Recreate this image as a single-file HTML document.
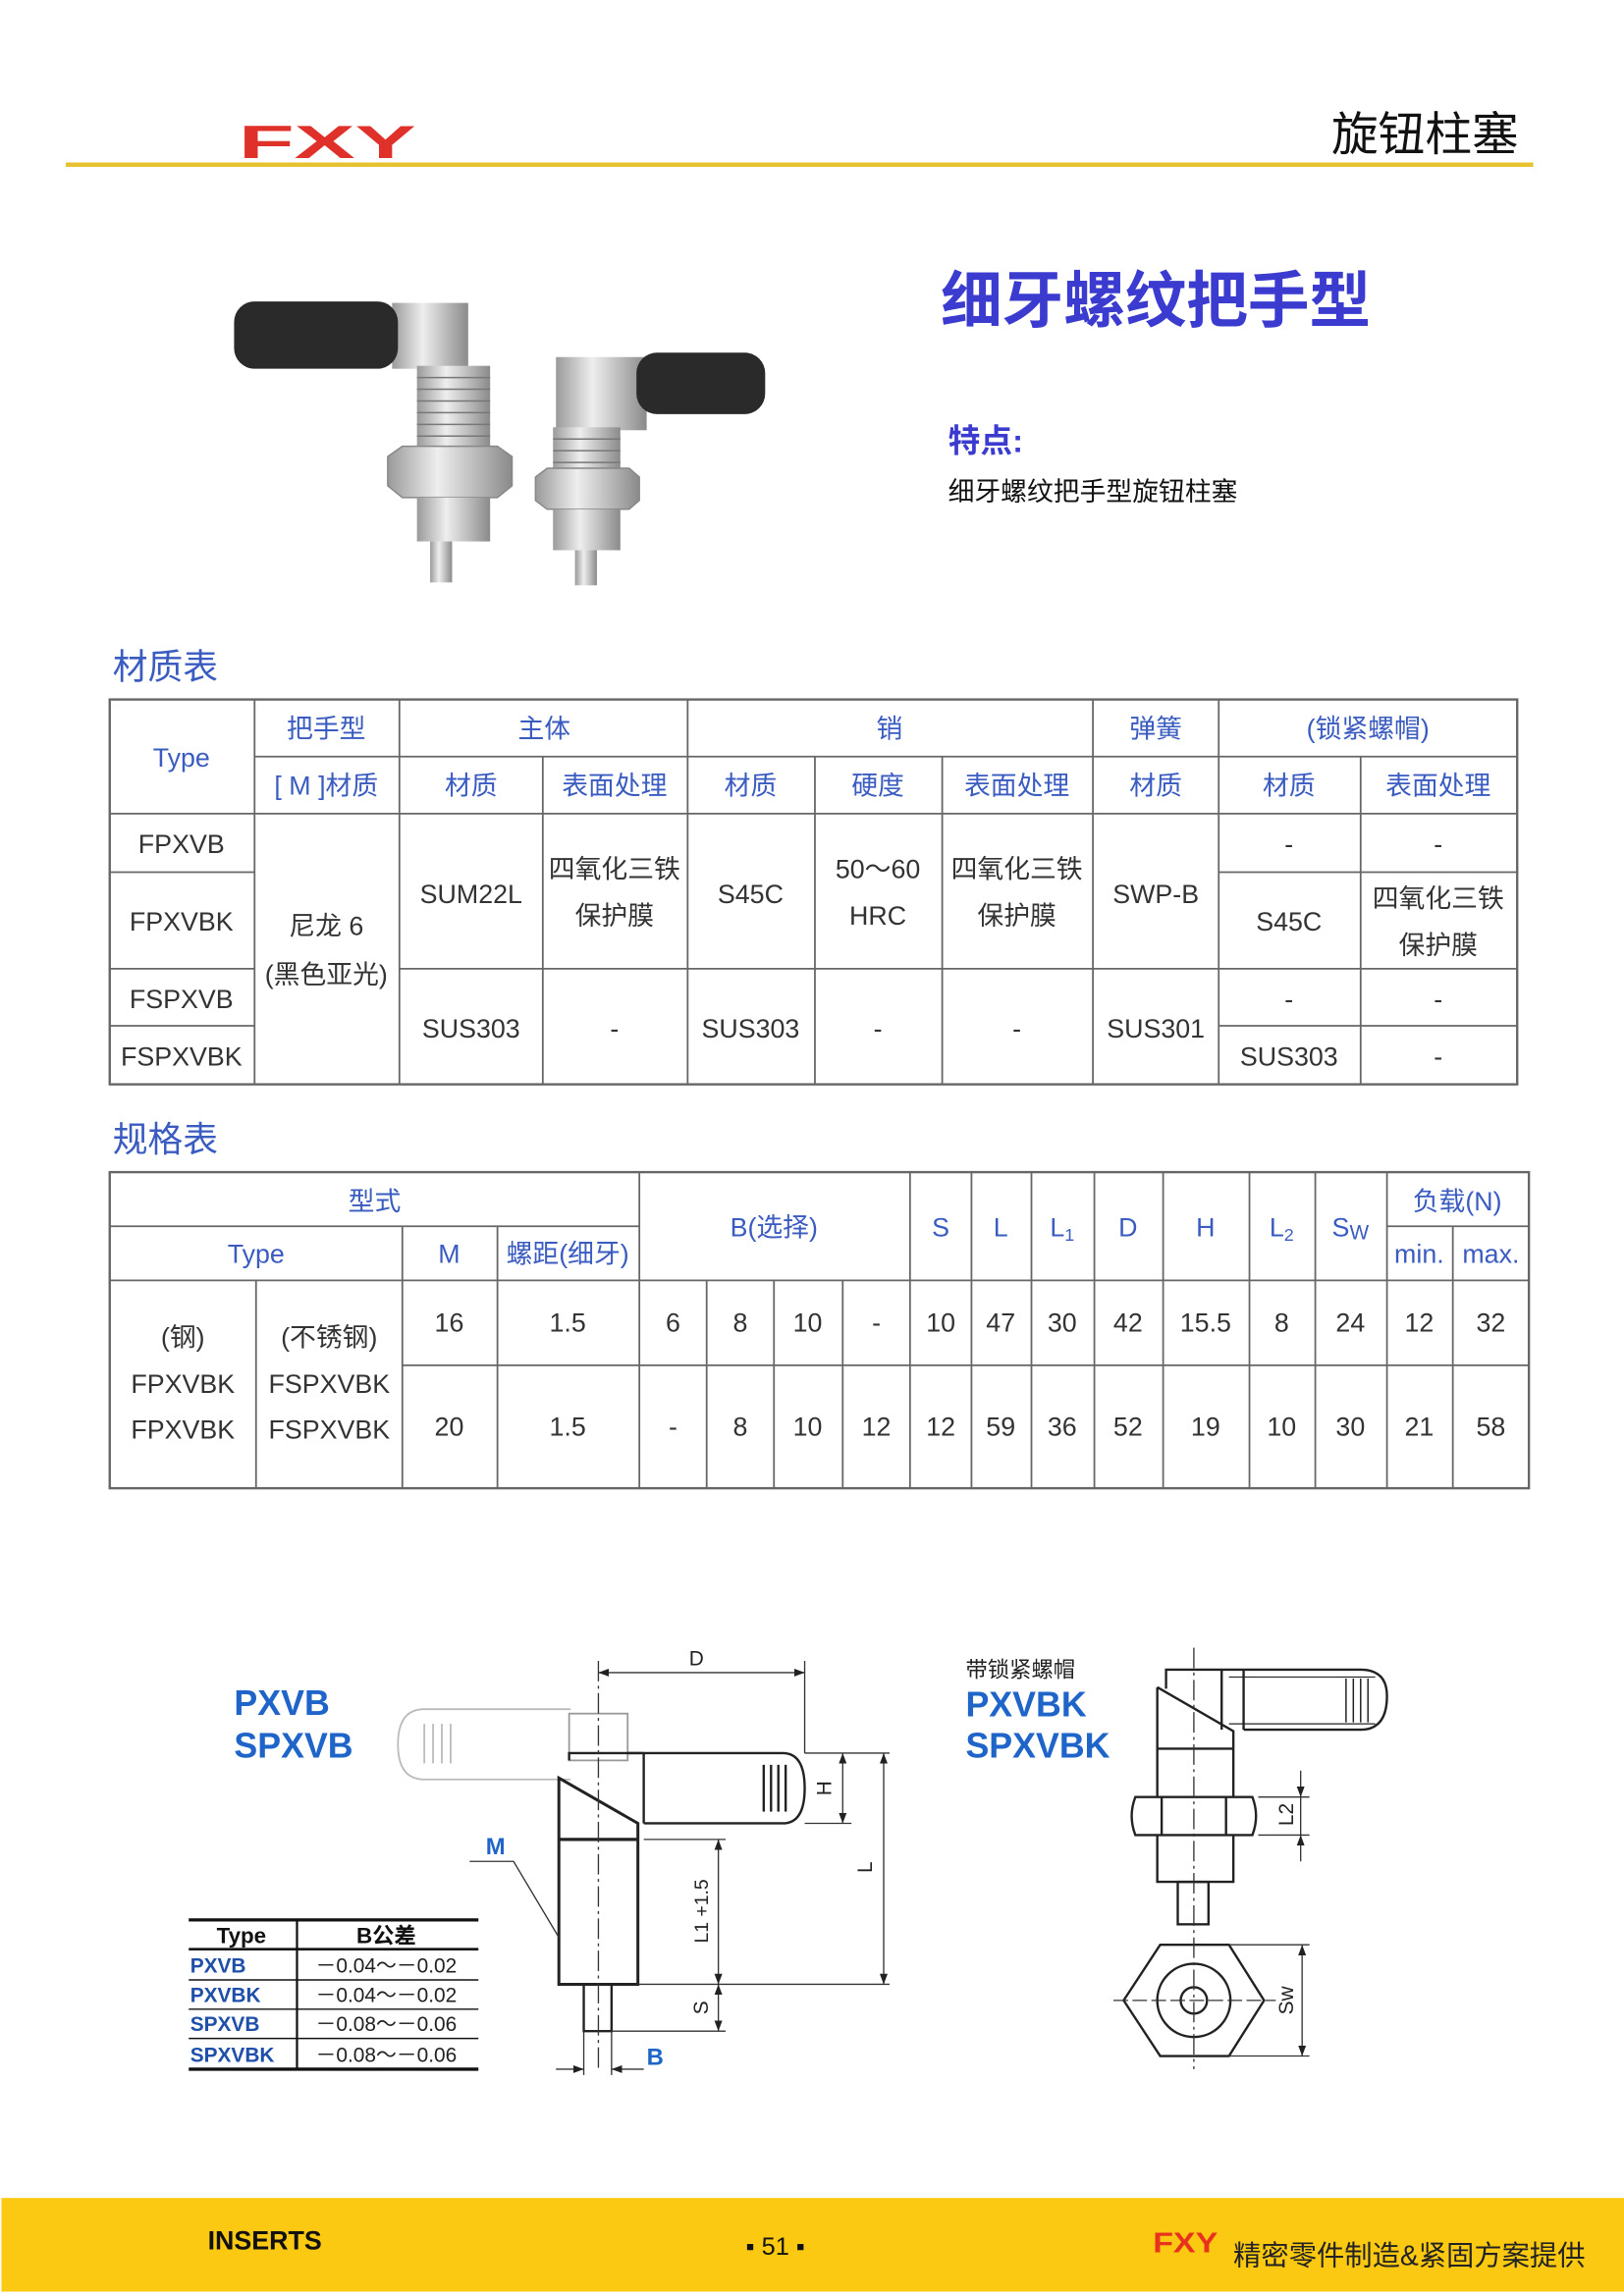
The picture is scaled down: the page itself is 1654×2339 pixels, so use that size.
<!DOCTYPE html>
<html><head><meta charset="utf-8"><style>
html,body{margin:0;padding:0;background:#fff;}
svg{display:block;}
text{font-family:"Liberation Sans","Noto Sans CJK SC",sans-serif;}
</style></head><body>
<svg width="1654" height="2339" viewBox="0 0 1110 1569" preserveAspectRatio="none" xmlns="http://www.w3.org/2000/svg">
<!-- header -->
<text transform="translate(163,108) scale(1.95,1)" font-size="32" font-weight="bold" fill="#e0302a">FXY</text>
<text x="910" y="103" font-size="32" fill="#111">旋钮柱塞</text>
<line x1="45" y1="112.5" x2="1048" y2="112.5" stroke="#e6c230" stroke-width="3"/>
<text x="643" y="220" font-size="42" font-weight="bold" fill="#3b3bd0">细牙螺纹把手型</text>
<text x="648" y="309" font-size="22" font-weight="bold" fill="#3b3bd0">特点:</text>
<text x="648" y="342" font-size="18" fill="#111">细牙螺纹把手型旋钮柱塞</text>

<!-- photos -->
<defs>
<linearGradient id="mt" x1="0" x2="1" y1="0" y2="0"><stop offset="0" stop-color="#9a9a9a"/><stop offset=".4" stop-color="#eee"/><stop offset="1" stop-color="#8a8a8a"/></linearGradient>
</defs>
<rect x="268" y="207" width="52" height="45" fill="url(#mt)"/>
<rect x="160" y="206" width="112" height="46" rx="14" fill="#2a2a2a"/>
<rect x="285" y="250" width="50" height="60" fill="url(#mt)"/>
<g stroke="#777" stroke-width="1"><line x1="285" y1="258" x2="335" y2="258"/><line x1="285" y1="266" x2="335" y2="266"/><line x1="285" y1="274" x2="335" y2="274"/><line x1="285" y1="282" x2="335" y2="282"/><line x1="285" y1="290" x2="335" y2="290"/><line x1="285" y1="298" x2="335" y2="298"/></g>
<polygon points="265,312 275,305 340,305 350,312 350,332 340,340 275,340 265,332" fill="url(#mt)" stroke="#888"/>
<rect x="285" y="340" width="50" height="30" fill="url(#mt)"/>
<rect x="294" y="370" width="15" height="28" fill="url(#mt)"/>
<rect x="380" y="244" width="62" height="50" fill="url(#mt)"/>
<rect x="435" y="241" width="88" height="42" rx="14" fill="#2a2a2a"/>
<rect x="378" y="292" width="46" height="40" fill="url(#mt)"/>
<g stroke="#777" stroke-width="1"><line x1="378" y1="300" x2="424" y2="300"/><line x1="378" y1="308" x2="424" y2="308"/><line x1="378" y1="316" x2="424" y2="316"/></g>
<polygon points="366,326 374,320 430,320 437,326 437,342 430,348 374,348 366,342" fill="url(#mt)" stroke="#888"/>
<rect x="378" y="348" width="46" height="28" fill="url(#mt)"/>
<rect x="393" y="376" width="15" height="24" fill="url(#mt)"/>

<!-- 材质表 -->
<text x="77" y="464" font-size="24" fill="#3a5bc0">材质表</text>
<g stroke="#666" stroke-width="1.2" fill="none">
<rect x="75" y="478" width="962" height="263" stroke-width="1.6"/>
<line x1="174" y1="517" x2="1037" y2="517"/>
<line x1="75" y1="556" x2="1037" y2="556"/>
<line x1="75" y1="596" x2="174" y2="596"/><line x1="833" y1="596" x2="1037" y2="596"/>
<line x1="75" y1="662" x2="174" y2="662"/><line x1="273" y1="662" x2="1037" y2="662"/>
<line x1="75" y1="701" x2="174" y2="701"/><line x1="833" y1="701" x2="1037" y2="701"/>
<line x1="174" y1="478" x2="174" y2="741"/><line x1="273" y1="478" x2="273" y2="741"/>
<line x1="371" y1="517" x2="371" y2="741"/><line x1="470" y1="478" x2="470" y2="741"/>
<line x1="557" y1="517" x2="557" y2="741"/><line x1="644" y1="517" x2="644" y2="741"/>
<line x1="747" y1="478" x2="747" y2="741"/><line x1="833" y1="478" x2="833" y2="741"/>
<line x1="930" y1="517" x2="930" y2="741"/>
</g>
<g font-size="18" fill="#3a5bc0" text-anchor="middle">
<text x="124" y="524">Type</text>
<text x="223" y="504">把手型</text><text x="372" y="504">主体</text><text x="608" y="504">销</text><text x="790" y="504">弹簧</text><text x="935" y="504">(锁紧螺帽)</text>
<text x="223" y="543">[ M ]材质</text><text x="322" y="543">材质</text><text x="420" y="543">表面处理</text><text x="513" y="543">材质</text><text x="600" y="543">硬度</text><text x="695" y="543">表面处理</text><text x="790" y="543">材质</text><text x="881" y="543">材质</text><text x="983" y="543">表面处理</text>
</g>
<g font-size="18" fill="#333" text-anchor="middle">
<text x="124" y="583">FPXVB</text><text x="124" y="636">FPXVBK</text><text x="124" y="689">FSPXVB</text><text x="124" y="728">FSPXVBK</text>
<text x="223" y="639">尼龙 6</text><text x="223" y="672">(黑色亚光)</text>
<text x="322" y="617">SUM22L</text><text x="420" y="600">四氧化三铁</text><text x="420" y="632">保护膜</text>
<text x="513" y="617">S45C</text><text x="600" y="600">50～60</text><text x="600" y="632">HRC</text>
<text x="695" y="600">四氧化三铁</text><text x="695" y="632">保护膜</text><text x="790" y="617">SWP-B</text>
<text x="881" y="583">-</text><text x="983" y="583">-</text>
<text x="881" y="636">S45C</text><text x="983" y="620">四氧化三铁</text><text x="983" y="652">保护膜</text>
<text x="322" y="709">SUS303</text><text x="420" y="709">-</text><text x="513" y="709">SUS303</text><text x="600" y="709">-</text><text x="695" y="709">-</text><text x="790" y="709">SUS301</text>
<text x="881" y="689">-</text><text x="983" y="689">-</text><text x="881" y="728">SUS303</text><text x="983" y="728">-</text>
</g>

<!-- 规格表 -->
<text x="77" y="787" font-size="24" fill="#3a5bc0">规格表</text>
<g stroke="#666" stroke-width="1.2" fill="none">
<rect x="75" y="801" width="970" height="216" stroke-width="1.6"/>
<line x1="75" y1="838" x2="437" y2="838"/><line x1="948" y1="838" x2="1045" y2="838"/>
<line x1="75" y1="875" x2="1045" y2="875"/>
<line x1="275" y1="933" x2="1045" y2="933"/>
<line x1="175" y1="875" x2="175" y2="1017"/>
<line x1="275" y1="838" x2="275" y2="1017"/><line x1="340" y1="838" x2="340" y2="1017"/>
<line x1="437" y1="801" x2="437" y2="1017"/>
<line x1="483" y1="875" x2="483" y2="1017"/><line x1="529" y1="875" x2="529" y2="1017"/><line x1="576" y1="875" x2="576" y2="1017"/>
<line x1="622" y1="801" x2="622" y2="1017"/><line x1="664" y1="801" x2="664" y2="1017"/><line x1="705" y1="801" x2="705" y2="1017"/>
<line x1="748" y1="801" x2="748" y2="1017"/><line x1="795" y1="801" x2="795" y2="1017"/><line x1="854" y1="801" x2="854" y2="1017"/>
<line x1="899" y1="801" x2="899" y2="1017"/><line x1="948" y1="801" x2="948" y2="1017"/><line x1="993" y1="838" x2="993" y2="1017"/>
</g>
<g font-size="18" fill="#3a5bc0" text-anchor="middle">
<text x="256" y="827">型式</text><text x="175" y="863">Type</text><text x="307" y="863">M</text><text x="388" y="863">螺距(细牙)</text>
<text x="529" y="845">B(选择)</text><text x="643" y="845">S</text><text x="684" y="845">L</text><text x="726" y="845">L<tspan font-size="12" dy="3">1</tspan></text>
<text x="771" y="845">D</text><text x="824" y="845">H</text><text x="876" y="845">L<tspan font-size="12" dy="3">2</tspan></text><text x="923" y="845">S<tspan font-size="14" dy="2">W</tspan></text>
<text x="996" y="827">负载(N)</text><text x="970" y="863">min.</text><text x="1019" y="863">max.</text>
</g>
<g font-size="18" fill="#333" text-anchor="middle">
<text x="125" y="920">(钢)</text><text x="125" y="952">FPXVBK</text><text x="125" y="983">FPXVBK</text>
<text x="225" y="920">(不锈钢)</text><text x="225" y="952">FSPXVBK</text><text x="225" y="983">FSPXVBK</text>
<text x="307" y="910">16</text><text x="388" y="910">1.5</text><text x="460" y="910">6</text><text x="506" y="910">8</text><text x="552" y="910">10</text><text x="599" y="910">-</text>
<text x="643" y="910">10</text><text x="684" y="910">47</text><text x="726" y="910">30</text><text x="771" y="910">42</text><text x="824" y="910">15.5</text><text x="876" y="910">8</text><text x="923" y="910">24</text><text x="970" y="910">12</text><text x="1019" y="910">32</text>
<text x="307" y="981">20</text><text x="388" y="981">1.5</text><text x="460" y="981">-</text><text x="506" y="981">8</text><text x="552" y="981">10</text><text x="599" y="981">12</text>
<text x="643" y="981">12</text><text x="684" y="981">59</text><text x="726" y="981">36</text><text x="771" y="981">52</text><text x="824" y="981">19</text><text x="876" y="981">10</text><text x="923" y="981">30</text><text x="970" y="981">21</text><text x="1019" y="981">58</text>
</g>

<!-- left drawing -->
<defs><marker id="ar" markerWidth="8" markerHeight="6" refX="8" refY="3" orient="auto-start-reverse"><path d="M0,0 L8,3 L0,6 z" fill="#222"/></marker></defs>
<text x="160" y="1172" font-size="24" font-weight="bold" fill="#1f64c8">PXVB</text>
<text x="160" y="1201" font-size="24" font-weight="bold" fill="#1f64c8">SPXVB</text>
<g fill="none" stroke="#bbb" stroke-width="1.2">
<path d="M390,1168 H290 Q272,1168 272,1192 Q272,1216 290,1216 H390"/>
<line x1="290" y1="1178" x2="290" y2="1205"/><line x1="296" y1="1178" x2="296" y2="1205"/><line x1="302" y1="1178" x2="302" y2="1205"/><line x1="308" y1="1178" x2="308" y2="1205"/>
<rect x="389" y="1171" width="40" height="32" stroke="#999"/>
</g>
<g fill="none" stroke="#222" stroke-width="1.6">
<path d="M429,1198 H535 Q550,1198 550,1222 Q550,1246 535,1246 H440"/>
<line x1="440" y1="1198" x2="440" y2="1246"/>
<line x1="522" y1="1206" x2="522" y2="1238"/><line x1="527" y1="1206" x2="527" y2="1238"/><line x1="532" y1="1206" x2="532" y2="1238"/><line x1="537" y1="1206" x2="537" y2="1238"/>
<path d="M389,1203 V1198 H440"/>
<path d="M382,1215 L436,1246 V1356 H382 Z" stroke-width="2"/>
<line x1="382" y1="1257" x2="436" y2="1257" stroke-width="2.2"/>
<rect x="399" y="1356" width="19" height="32"/>
</g>
<g stroke="#333" stroke-width="0.9" fill="none">
<line x1="409" y1="1135" x2="409" y2="1415" stroke-dasharray="14,3,2,3"/>
<line x1="550" y1="1135" x2="550" y2="1198"/>
<line x1="409" y1="1143" x2="550" y2="1143" marker-start="url(#ar)" marker-end="url(#ar)"/>
<line x1="550" y1="1198" x2="608" y2="1198"/><line x1="550" y1="1246" x2="582" y2="1246"/>
<line x1="576" y1="1198" x2="576" y2="1246" marker-start="url(#ar)" marker-end="url(#ar)"/>
<line x1="604" y1="1198" x2="604" y2="1356" marker-start="url(#ar)" marker-end="url(#ar)"/>
<line x1="440" y1="1257" x2="496" y2="1257"/><line x1="436" y1="1356" x2="608" y2="1356"/><line x1="418" y1="1388" x2="496" y2="1388"/>
<line x1="491" y1="1257" x2="491" y2="1356" marker-start="url(#ar)" marker-end="url(#ar)"/>
<line x1="491" y1="1356" x2="491" y2="1388" marker-start="url(#ar)" marker-end="url(#ar)"/>
<line x1="399" y1="1388" x2="399" y2="1418"/><line x1="418" y1="1388" x2="418" y2="1418"/>
<line x1="380" y1="1414" x2="399" y2="1414" marker-end="url(#ar)"/><line x1="440" y1="1414" x2="418" y2="1414" marker-end="url(#ar)"/>
<polyline points="321,1272 351,1272 382,1324"/>
</g>
<text x="476" y="1138" font-size="14" text-anchor="middle" fill="#222">D</text>
<text transform="translate(568,1222) rotate(-90)" font-size="14" text-anchor="middle" fill="#222">H</text>
<text transform="translate(596,1276) rotate(-90)" font-size="14" text-anchor="middle" fill="#222">L</text>
<text transform="translate(484,1306) rotate(-90)" font-size="13" text-anchor="middle" fill="#222">L1 +1.5</text>
<text transform="translate(484,1372) rotate(-90)" font-size="14" text-anchor="middle" fill="#222">S</text>
<text x="332" y="1267" font-size="16" font-weight="bold" fill="#1f64c8">M</text>
<text x="442" y="1411" font-size="16" font-weight="bold" fill="#1f64c8">B</text>
<!-- tolerance table -->
<g stroke="#111" fill="none">
<line x1="129" y1="1312" x2="327" y2="1312" stroke-width="2.2"/>
<line x1="129" y1="1332" x2="327" y2="1332" stroke-width="1.8"/>
<line x1="129" y1="1353" x2="327" y2="1353" stroke-width="1"/>
<line x1="129" y1="1373" x2="327" y2="1373" stroke-width="1"/>
<line x1="129" y1="1393" x2="327" y2="1393" stroke-width="1"/>
<line x1="129" y1="1414" x2="327" y2="1414" stroke-width="2.2"/>
<line x1="203" y1="1312" x2="203" y2="1414" stroke-width="1.5"/>
</g>
<text x="165" y="1328" font-size="15" font-weight="bold" text-anchor="middle" fill="#111">Type</text>
<text x="264" y="1328" font-size="15" font-weight="bold" text-anchor="middle" fill="#111">B公差</text>
<g font-size="14" font-weight="bold" fill="#1f4fa8"><text x="130" y="1348">PXVB</text><text x="130" y="1368">PXVBK</text><text x="130" y="1388">SPXVB</text><text x="130" y="1409">SPXVBK</text></g>
<g font-size="14" fill="#222" text-anchor="middle"><text x="264" y="1348">－0.04～－0.02</text><text x="264" y="1368">－0.04～－0.02</text><text x="264" y="1388">－0.08～－0.06</text><text x="264" y="1409">－0.08～－0.06</text></g>

<!-- right drawing -->
<text x="660" y="1146" font-size="15" fill="#222">带锁紧螺帽</text>
<text x="660" y="1173" font-size="24" font-weight="bold" fill="#1f64c8">PXVBK</text>
<text x="660" y="1201" font-size="24" font-weight="bold" fill="#1f64c8">SPXVBK</text>
<g fill="none" stroke="#222" stroke-width="1.6">
<path d="M797,1154 V1141 H930 Q948,1141 948,1159 Q948,1182 930,1182 H850"/>
<line x1="835" y1="1141" x2="835" y2="1182"/><line x1="850" y1="1141" x2="850" y2="1182"/>
<line x1="840" y1="1146" x2="940" y2="1146" stroke-width="0.8"/><line x1="840" y1="1178" x2="940" y2="1178" stroke-width="0.8"/>
<line x1="920" y1="1147" x2="920" y2="1177" stroke-width="1"/><line x1="925" y1="1147" x2="925" y2="1177" stroke-width="1"/><line x1="930" y1="1147" x2="930" y2="1177" stroke-width="1"/><line x1="935" y1="1147" x2="935" y2="1177" stroke-width="1"/>
<path d="M791,1153 L843,1183 V1228 M791,1153 V1228"/>
<line x1="791" y1="1195" x2="843" y2="1195"/>
<path d="M776,1228 H856 Q861,1241 856,1254 H776 Q771,1241 776,1228 Z"/>
<line x1="794" y1="1228" x2="794" y2="1254"/><line x1="838" y1="1228" x2="838" y2="1254"/>
<path d="M791,1254 V1286 H843 V1254"/>
<rect x="805" y="1286" width="21" height="29"/>
<polygon points="793,1329 840,1329 864,1367 840,1405 793,1405 768,1367"/>
<circle cx="816" cy="1367" r="25"/><circle cx="816" cy="1367" r="9"/>
</g>
<g stroke="#333" stroke-width="0.9" fill="none">
<line x1="816" y1="1126" x2="816" y2="1414" stroke-dasharray="14,3,2,3"/>
<line x1="761" y1="1367" x2="872" y2="1367" stroke-dasharray="10,3"/>
<line x1="860" y1="1228" x2="895" y2="1228"/><line x1="860" y1="1254" x2="895" y2="1254"/>
<line x1="889" y1="1210" x2="889" y2="1228" marker-end="url(#ar)"/><line x1="889" y1="1272" x2="889" y2="1254" marker-end="url(#ar)"/>
<line x1="889" y1="1228" x2="889" y2="1254"/>
<line x1="840" y1="1329" x2="895" y2="1329"/><line x1="840" y1="1405" x2="895" y2="1405"/>
<line x1="890" y1="1329" x2="890" y2="1405" marker-start="url(#ar)" marker-end="url(#ar)"/>
</g>
<text transform="translate(884,1240) rotate(-90)" font-size="14" text-anchor="middle" fill="#222">L2</text>
<text transform="translate(884,1367) rotate(-90)" font-size="14" text-anchor="middle" fill="#222">Sw</text>

<!-- footer -->
<rect x="1" y="1502" width="1109" height="64" fill="#fbc812"/>
<text x="142" y="1537" font-size="18" font-weight="bold" fill="#111">INSERTS</text>
<text x="530" y="1541" font-size="17" text-anchor="middle" fill="#111">▪ 51 ▪</text>
<text transform="translate(788,1539) scale(1.2,1)" font-size="19" font-weight="bold" fill="#e8321e">FXY</text>
<text x="843" y="1548" font-size="19" fill="#222">精密零件制造&amp;紧固方案提供</text>
</svg>
</body></html>
